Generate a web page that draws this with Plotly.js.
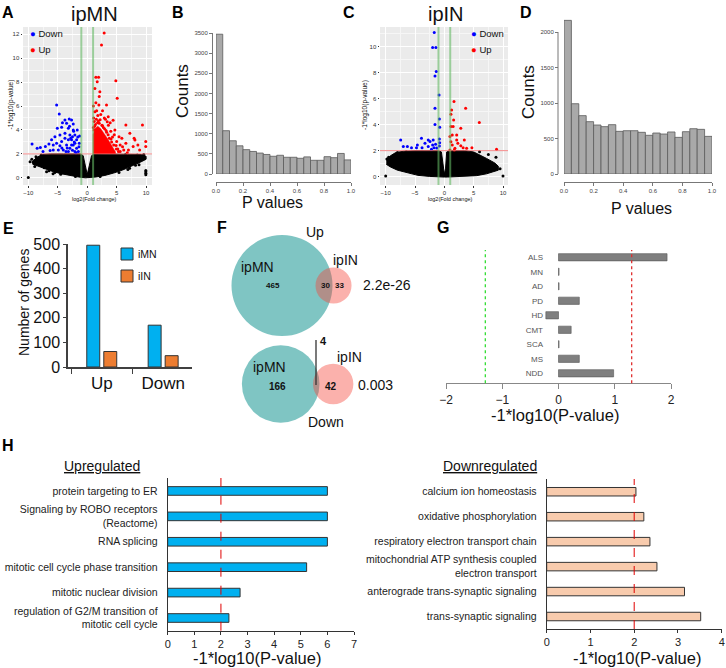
<!DOCTYPE html>
<html>
<head>
<meta charset="utf-8">
<script src="https://cdn.plot.ly/plotly-3.0.1.min.js"></script>
<style>
  body { margin: 0; background: #fff; }
  #fig { width: 726px; height: 668px; }
</style>
</head>
<body>
<div id="fig"></div>
<script>
// ---- data ----
const fcThresh = 1;
const pThresh = 2;

// A: ipMN volcano (dense black cloud drawn as its envelope)
const aCloudX = [-9.4,-8.6,-7.6,-6.2,-4,-2,-1.2,-0.68,-0.3,0,0.3,0.74,1.2,3,5,7.5,9.2,10,10,9,7.5,6,4.5,3,1.5,0.3,0,-0.3,-1.5,-3,-4.5,-6,-7.5,-8.5,-9.3];
const aCloudY = [1.3,1.7,1.95,2,2,2,2,1.85,0.9,0.28,0.9,1.85,2,2,2,2,1.95,1.8,1.55,1.3,0.95,0.65,0.4,0.2,0.07,0,-0.02,0,0.07,0.2,0.35,0.55,0.8,1.0,1.15];
const aNsX = [-10,-9.4,-9.0,-8.7,-8.3,-8.0,-7.8,-7.3,-6.5,-5.5,-4.5,9.95,9.95,9.95,9.95,6.5,8.5,9.6,7.2,8.2,-2,2.2,-9.7,-8.9,-6.9,-5.8,5.4,6.9,8.8];
const aNsY = [0.02,1.55,1.2,1.75,1.45,1.1,1.9,0.85,0.6,0.45,0.3,0.25,0.38,0.5,0.62,1.95,1.9,1.95,0.8,1.05,0.1,0.12,1.35,0.95,0.5,0.35,0.45,0.7,1.1];
const aUpCoreX = [1.0,1.0,1.3,1.8,2.3,2.9,3.4,3.9,4.4,4.8,4.8];
const aUpCoreY = [2.0,3.6,4.1,4.3,4.1,3.7,3.3,2.9,2.5,2.15,2.0];
const aUpX = [2.88,2.43,4.86,5.09,1.47,1.93,1.7,2.15,1.3,1.47,1.98,1.3,3.28,3.57,3.4,7.24,9.38,6.56,7.97,5.6,5.88,9.94,9.94,8.6,8.1,4.7,5.4,6.2,7.0,5.0,5.6,7.8,8.9,6.56,4.4,2.04,1.1,1.6,2.3,2.6,1.2,2.9,3.6,4.0,4.3,4.9,5.2,1.05,1.8,3.1,4.6,6.0,6.8,3.9,
  1.15,1.4,1.75,2.05,2.5,2.75,3.2,3.55,3.75,4.15,4.5,4.95,5.3,1.25,1.9,2.6,3.3,4.05,1.05,1.55,2.2,2.95];
const aUpY = [12.1,11.1,8.1,6.64,8.4,8.4,8.03,7.2,7.47,6.28,6.08,5.53,6.08,5.11,4.69,3.72,4.42,4.42,3.3,2.75,3.3,3.03,2.61,2.75,3.16,4.0,3.44,2.33,2.33,3.03,2.19,2.61,2.33,2.89,4.8,6.8,5.0,5.6,5.3,5.6,4.7,5.0,4.4,3.9,3.4,2.7,2.4,6.0,5.2,4.9,3.6,2.6,2.1,4.6,
  4.0,4.45,4.6,4.55,4.4,4.2,3.95,3.6,3.3,3.0,2.75,2.4,2.2,4.3,4.75,4.35,3.8,3.25,4.2,4.9,4.85,4.1];
const aDownX = [-5.19,-4.74,-3.05,-2.66,-4.2,-3.5,-2.37,-5.07,-4.34,-3.2,-2.37,-3.78,-2.94,-2.09,-5.48,-4.63,-6.05,-2.66,-1.8,-1.35,-9.36,-7.95,-7.1,-6.5,-5.76,-5.2,-4.34,-3.5,-2.94,-2.37,-1.8,-1.5,-4.06,-4.9,-6.3,-3.2,-2.09,-2.66,-3.78,-2.09,-3.2,-1.69,-3.78,-7.5,-8.5,-2.5,-4.63,-5.76,-1.4,-1.6,-2.2,-2.5,-2.8,-3.4,-1.9,-2.3,-3.0,-1.3,-3.6,-4.3];
const aDownY = [6.08,5.33,4.92,4.83,4.61,4.56,4.5,4.14,4.22,4.14,4.0,3.72,3.58,3.58,3.44,3.58,3.17,3.17,3.17,2.89,2.83,2.53,2.61,2.83,2.75,2.89,3.03,2.75,2.47,2.75,2.47,2.19,2.33,2.33,2.28,2.19,2.19,2.75,3.3,2.89,3.17,4.0,4.83,2.19,2.47,3.44,2.67,2.33,2.6,3.4,3.0,2.3,3.3,2.5,2.1,3.9,4.3,3.5,2.2,2.5];

// C: ipIN volcano
const cCloudX = [-9.9,-9.2,-8.3,-7,-5,-2,-1.0,-0.5,-0.2,0.0,0.2,0.4,1.0,3.5,5.0,6.2,7.2,8.6,9.2,9.2,8.4,7.2,5.5,3,0.5,0,-0.5,-2.5,-4.5,-6.5,-8,-9.2,-9.9];
const cCloudY = [1.3,1.6,1.85,1.95,2.0,2.0,2.0,1.9,0.6,0.2,0.6,1.9,2.0,2.0,1.9,1.65,1.4,1.05,0.8,0.5,0.38,0.22,0.08,0.0,-0.03,-0.03,-0.03,0.02,0.1,0.3,0.5,0.75,0.95];
const cNsX = [-10,10,-9.8,-8,-6.5,6,7.5,8.8,-9.5,9.5];
const cNsY = [0.05,0.05,1.35,1.85,1.92,1.92,1.7,1.5,1.5,0.6];
const cUpX = [1.64,3.63,5.96,1.24,1.12,1.12,1.5,2.8,1.58,0.95,1.35,2.1,3.4,2.3,2.8,3.2,3.8,4.7,1.8,1.35,1.12,1.7,8.9,0.95,2.1];
const cUpY = [5.77,5.26,4.16,5.13,4.79,3.85,3.85,3.72,4.36,3.08,3.2,2.82,2.82,2.56,2.38,2.23,2.18,2.23,2.18,2.44,2.69,2.05,2.1,2.05,3.2];
const cDownX = [-1.72,-2.0,-1.45,-1.38,-1.6,-0.9,-1.6,-0.85,-1.6,-0.8,-0.85,-0.8,-0.85,-7.44,-7.0,-6.3,-5.6,-4.75,-3.9,-3.3,-2.74,-2.45,-2.0,-1.77,-3.8,-4.6,-2.74,-1.9,-1.5,-1.3,-2.2];
const cDownY = [11.08,9.93,9.93,8.08,7.74,6.28,5.26,4.44,4.0,3.8,2.9,2.6,2.35,2.82,2.31,2.31,2.23,2.23,2.95,2.56,2.31,2.7,2.44,2.23,2.23,2.44,2.82,2.82,2.5,2.2,2.1];

// B and D: p-value histograms
const pBins = [0.025,0.075,0.125,0.175,0.225,0.275,0.325,0.375,0.425,0.475,0.525,0.575,0.625,0.675,0.725,0.775,0.825,0.875,0.925,0.975];
const bCounts = [3470,1075,825,700,605,560,520,485,440,465,415,415,390,425,340,340,430,405,510,350];
const dCounts = [2164,990,822,737,690,667,695,601,610,610,587,545,577,563,592,516,596,638,629,530];

// E: number of DE genes
const eGroups = ["Up", "Down"];
const eIMN = [495, 170];
const eIIN = [63, 46];

// F: Venn counts
const vennUp = { mnOnly: 465, both: 30, inOnly: 33, p: "2.2e-26" };
const vennDown = { mnOnly: 166, both: 4, inOnly: 42, p: "0.003" };

// G: disease gene enrichment
const gCats = ["ALS", "MN", "AD", "PD", "HD", "CMT", "SCA", "MS", "NDD"];
const gVals = [1.93, 0.01, 0.01, 0.37, -0.225, 0.225, 0.01, 0.37, 0.98];
const gCut = 1.301;

// H: GO terms
const hUpCats = ["protein targeting to ER", "Signaling by ROBO receptors<br>(Reactome)", "RNA splicing",
  "mitotic cell cycle phase transition", "mitotic nuclear division", "regulation of G2/M transition of<br>mitotic cell cycle"];
const hUpVals = [6.0, 6.0, 6.0, 5.22, 2.72, 2.3];
const hDownCats = ["calcium ion homeostasis", "oxidative phosphorylation", "respiratory electron transport chain",
  "mitochondrial ATP synthesis coupled<br>electron transport", "anterograde trans-synaptic signaling", "trans-synaptic signaling"];
const hDownVals = [2.04, 2.22, 2.36, 2.52, 3.15, 3.52];
const hCut = 2;

// ---- helpers (pixel -> paper) ----
const W = 726, H = 668;
const dx = (a, b) => [a / W, b / W];
const dy = (t, b) => [(H - b) / H, (H - t) / H];
const FONT = "Arial, 'Liberation Sans', sans-serif";

function ann(x, y, text, size, extra) {
  return Object.assign({
    xref: "paper", yref: "paper", x: x / W, y: (H - y) / H, text: text,
    showarrow: false, font: { size: size, color: "#111", family: FONT },
    xanchor: "center", yanchor: "middle"
  }, extra || {});
}

function pts(x, y, color, xa, ya) {
  return { type: "scatter", mode: "markers", x: x, y: y, xaxis: xa, yaxis: ya,
    marker: { color: color, size: 3, line: { width: 0 } }, hoverinfo: "skip" };
}
function area(x, y, color, xa, ya, lw) {
  return { type: "scatter", mode: "lines", x: x, y: y, xaxis: xa, yaxis: ya, fill: "toself",
    fillcolor: color, line: { color: color, width: lw }, hoverinfo: "skip" };
}

const data = [
  // A
  area(aCloudX, aCloudY, "#000", "x", "y", 1),
  pts(aNsX, aNsY, "#000", "x", "y"),
  pts(aDownX, aDownY, "#0000FF", "x", "y"),
  area(aUpCoreX, aUpCoreY, "#FF0000", "x", "y", 0.5),
  pts(aUpX, aUpY, "#FF0000", "x", "y"),
  // C
  area(cCloudX, cCloudY, "#000", "x3", "y3", 1),
  pts(cNsX, cNsY, "#000", "x3", "y3"),
  pts(cDownX, cDownY, "#0000FF", "x3", "y3"),
  pts(cUpX, cUpY, "#FF0000", "x3", "y3"),
  // B, D histograms
  { type: "bar", x: pBins, y: bCounts, width: 0.05, xaxis: "x2", yaxis: "y2",
    marker: { color: "#A9A9A9", line: { color: "#5A5A5A", width: 0.8 } } },
  { type: "bar", x: pBins, y: dCounts, width: 0.05, xaxis: "x4", yaxis: "y4",
    marker: { color: "#A9A9A9", line: { color: "#5A5A5A", width: 0.8 } } },
  // E
  { type: "bar", x: eGroups, y: eIMN, offset: -0.244, width: 0.211, xaxis: "x5", yaxis: "y5",
    marker: { color: "#00B0F0", line: { color: "#333", width: 1 } } },
  { type: "bar", x: eGroups, y: eIIN, offset: 0.033, width: 0.211, xaxis: "x5", yaxis: "y5",
    marker: { color: "#ED7D31", line: { color: "#333", width: 1 } } },
  // G
  { type: "bar", orientation: "h", y: gCats, x: gVals, width: 0.5, xaxis: "x7", yaxis: "y7",
    marker: { color: "#7F7F7F", line: { color: "#555", width: 0.6 } } },
  // H
  { type: "bar", orientation: "h", y: hUpCats, x: hUpVals, width: 0.34, xaxis: "x8", yaxis: "y8",
    marker: { color: "#00B0F0", line: { color: "#333", width: 1 } } },
  { type: "bar", orientation: "h", y: hDownCats, x: hDownVals, width: 0.34, xaxis: "x9", yaxis: "y9",
    marker: { color: "#F8CBAD", line: { color: "#333", width: 1 } } }
];

function volX(dom, range, yname) {
  return { domain: dom, range: range, anchor: yname, tickvals: [-10, -5, 0, 5, 10],
    tickfont: { size: 6, color: "#333" }, ticks: "outside", ticklen: 1.5, tickcolor: "#333",
    showgrid: true, gridcolor: "#fff", gridwidth: 1, zeroline: false, showline: false,
    minor: { tickvals: [-7.5, -2.5, 2.5, 7.5], showgrid: true, gridcolor: "#F6F6F6", gridwidth: 0.6 } };
}
function volY(dom, range, xname, vals) {
  return { domain: dom, range: range, anchor: xname, tickvals: vals,
    tickfont: { size: 6, color: "#333" }, ticks: "outside", ticklen: 1.5, tickcolor: "#333",
    showgrid: true, gridcolor: "#fff", gridwidth: 1, zeroline: false, showline: false,
    minor: { tickvals: vals.map(v => v + 1), showgrid: true, gridcolor: "#F6F6F6", gridwidth: 0.6 } };
}
const histTick = { size: 6, color: "#444" };

const layout = {
  width: W, height: H, margin: { l: 0, r: 0, t: 0, b: 0 },
  paper_bgcolor: "#fff", plot_bgcolor: "rgba(0,0,0,0)",
  font: { family: FONT, color: "#111" },
  showlegend: false, barmode: "overlay",

  xaxis: volX(dx(23, 152), [-10.9, 11.0], "y"),
  yaxis: volY(dy(27, 185), [-0.6, 12.6], "x", [0, 2, 4, 6, 8, 10, 12]),
  xaxis3: volX(dx(380, 508), [-10.97, 10.85], "y3"),
  yaxis3: volY(dy(27, 185), [-0.64, 11.5], "x3", [0, 2, 4, 6, 8, 10]),

  xaxis2: { domain: dx(216, 351), range: [0, 1], anchor: "free", position: (H - 182) / H,
    tickvals: [0, 0.2, 0.4, 0.6, 0.8, 1], tickformat: ".1f", showline: true, linecolor: "#777",
    ticks: "outside", ticklen: 3, tickcolor: "#777", tickfont: histTick, showgrid: false, zeroline: false },
  yaxis2: { domain: dy(33, 174), range: [0, 3500], anchor: "free", position: 212 / W,
    tickvals: [0, 500, 1000, 1500, 2000, 2500, 3000, 3500], showline: true, linecolor: "#777",
    ticks: "outside", ticklen: 3, tickcolor: "#777", tickfont: histTick, showgrid: false, zeroline: false },
  xaxis4: { domain: dx(564, 712), range: [0, 1], anchor: "free", position: (H - 182) / H,
    tickvals: [0, 0.2, 0.4, 0.6, 0.8, 1], tickformat: ".1f", showline: true, linecolor: "#777",
    ticks: "outside", ticklen: 3, tickcolor: "#777", tickfont: histTick, showgrid: false, zeroline: false },
  yaxis4: { domain: dy(17.8, 174), range: [0, 2200], anchor: "free", position: 558 / W,
    tickvals: [0, 500, 1000, 1500, 2000], showline: false,
    ticks: "outside", ticklen: 3, tickcolor: "#777", tickfont: histTick, showgrid: false, zeroline: false },

  xaxis5: { domain: dx(68, 192), range: [-0.55, 1.47], anchor: "y5", showline: true, linecolor: "#404040",
    linewidth: 1.5, ticks: "outside", tickson: "boundaries", ticklen: 5, tickcolor: "#404040",
    tickfont: { size: 17, color: "#111" }, showgrid: false, zeroline: false },
  yaxis5: { domain: dy(244, 367), range: [0, 500], anchor: "x5", showline: true, linecolor: "#404040",
    linewidth: 1.5, ticks: "outside", ticklen: 3, tickcolor: "#404040", tickvals: [0, 100, 200, 300, 400, 500],
    tickfont: { size: 16, color: "#111" }, showgrid: false, zeroline: false },

  xaxis7: { domain: dx(446, 671), range: [-2, 2], anchor: "y7", showline: true, linecolor: "#888",
    ticks: "outside", ticklen: 5, tickcolor: "#888", tickvals: [-2, -1, 0, 1, 2],
    tickfont: { size: 12, color: "#222" }, showgrid: false, zeroline: false },
  yaxis7: { domain: dy(250, 383.3), range: [8.69, -0.5], anchor: "free", position: 543 / W,
    type: "category", showline: false, ticks: "", tickfont: { size: 8, color: "#555" },
    showgrid: false, zeroline: false },

  xaxis8: { domain: dx(167.7, 354), range: [0, 7], anchor: "y8", showline: true, linecolor: "#333",
    ticks: "outside", ticklen: 3, tickcolor: "#333", tickvals: [0, 1, 2, 3, 4, 5, 6, 7],
    tickfont: { size: 11, color: "#222" }, showgrid: false, zeroline: false },
  yaxis8: { domain: dy(478, 630.7), range: [5.5, -0.51], anchor: "x8", type: "category",
    showline: true, linecolor: "#333", ticks: "", ticklabelstandoff: 7,
    tickfont: { size: 10.5, color: "#222" }, showgrid: false, zeroline: false },
  xaxis9: { domain: dx(546.7, 721.7), range: [0, 4], anchor: "y9", showline: true, linecolor: "#333",
    ticks: "outside", ticklen: 3, tickcolor: "#333", tickvals: [0, 1, 2, 3, 4],
    tickfont: { size: 11, color: "#222" }, showgrid: false, zeroline: false },
  yaxis9: { domain: dy(479, 629), range: [5.5, -0.51], anchor: "x9", type: "category",
    showline: true, linecolor: "#333", ticks: "", ticklabelstandoff: 7,
    tickfont: { size: 10.5, color: "#222" }, showgrid: false, zeroline: false },

  shapes: [],
  annotations: []
};

const S = layout.shapes, A = layout.annotations;

// volcano backgrounds and threshold lines
[["x", "y"], ["x3", "y3"]].forEach(([xa, ya]) => {
  S.push({ type: "rect", xref: xa + " domain", yref: ya + " domain", x0: 0, x1: 1, y0: 0, y1: 1,
    fillcolor: "#EBEBEB", line: { width: 0 }, layer: "below" });
  S.push({ type: "line", xref: xa + " domain", yref: ya, x0: 0, x1: 1, y0: pThresh, y1: pThresh,
    line: { color: "rgba(240,110,110,0.8)", width: 1 } });
  [-fcThresh, fcThresh].forEach(v => S.push({ type: "line", xref: xa, yref: ya + " domain",
    x0: v, x1: v, y0: 0, y1: 1, line: { color: "rgba(100,185,100,0.6)", width: 2 } }));
});

// D y-axis line (R draws it only between the end ticks)
S.push({ type: "line", xref: "paper", yref: "y4", x0: 558 / W, x1: 558 / W, y0: 0, y1: 2000,
  line: { color: "#777", width: 1 } });

// G and H cut-off lines
S.push({ type: "line", xref: "x7", yref: "y7 domain", x0: -gCut, x1: -gCut, y0: 0, y1: 1,
  line: { color: "#33DD33", width: 1.3, dash: "dot" } });
S.push({ type: "line", xref: "x7", yref: "y7 domain", x0: gCut, x1: gCut, y0: 0, y1: 1,
  line: { color: "#E03030", width: 1.3, dash: "dot" } });
S.push({ type: "line", xref: "x8", yref: "y8 domain", x0: hCut, x1: hCut, y0: 0, y1: 1,
  line: { color: "#E00000", width: 1, dash: "dash" } });
S.push({ type: "line", xref: "x9", yref: "y9 domain", x0: hCut, x1: hCut, y0: 0, y1: 1,
  line: { color: "#E00000", width: 1, dash: "dash" } });

// E legend boxes
S.push({ type: "rect", xref: "paper", yref: "paper", x0: 121 / W, x1: 133 / W, y0: (H - 260) / H, y1: (H - 248) / H,
  fillcolor: "#00B0F0", line: { color: "#333", width: 1 } });
S.push({ type: "rect", xref: "paper", yref: "paper", x0: 121 / W, x1: 133 / W, y0: (H - 282) / H, y1: (H - 270) / H,
  fillcolor: "#ED7D31", line: { color: "#333", width: 1 } });

// F: Venn circles, area proportional to gene counts
function venn(v, k, cx, cy, overlap) {
  const rMN = k * Math.sqrt(v.mnOnly + v.both);
  const rIN = k * Math.sqrt(v.inOnly + v.both);
  const cx2 = cx + rMN + rIN - overlap;
  S.push({ type: "circle", xref: "paper", yref: "paper", x0: (cx - rMN) / W, x1: (cx + rMN) / W,
    y0: (H - cy - rMN) / H, y1: (H - cy + rMN) / H, fillcolor: "rgba(0,140,135,0.5)", line: { width: 0 } });
  S.push({ type: "circle", xref: "paper", yref: "paper", x0: (cx2 - rIN) / W, x1: (cx2 + rIN) / W,
    y0: (H - cy - rIN) / H, y1: (H - cy + rIN) / H, fillcolor: "rgba(245,70,57,0.42)", line: { width: 0 } });
}
venn(vennUp, 2.27, 282, 285.5, 17);
venn(vennDown, 2.976, 280.7, 384, 6.5);
S.push({ type: "line", xref: "paper", yref: "paper", x0: 316 / W, x1: 316 / W, y0: (H - 385) / H, y1: (H - 340) / H,
  line: { color: "#333", width: 1.3 } });

// panel letters
[["A", 8, 12], ["B", 178, 12], ["C", 349, 12], ["D", 526, 12], ["E", 8, 228],
 ["F", 222, 227], ["G", 443, 227], ["H", 8, 445]].forEach(([t, x, y]) =>
  A.push(ann(x, y, "<b>" + t + "</b>", 16, { font: { size: 16, color: "#000", family: FONT } })));

// A / C texts
A.push(ann(94, 14, "ipMN", 20));
A.push(ann(446, 14, "ipIN", 20));
A.push(ann(28, 33, '<span style="color:#0000FF">●</span> Down', 9.5, { xanchor: "left" }));
A.push(ann(28, 49, '<span style="color:#FF0000">●</span> Up', 9.5, { xanchor: "left" }));
A.push(ann(469, 33, '<span style="color:#0000FF">●</span> Down', 9.5, { xanchor: "left" }));
A.push(ann(469, 49, '<span style="color:#FF0000">●</span> Up', 9.5, { xanchor: "left" }));
A.push(ann(95, 199, "log2(Fold change)", 5.5));
A.push(ann(450, 199, "log2(Fold change)", 5.5));
A.push(ann(10.5, 105, "-1*log10(p-value)", 6.5, { textangle: -90 }));
A.push(ann(365, 105, "-1*log10(p-value)", 6.5, { textangle: -90 }));

// B / D texts
A.push(ann(182, 91, "Counts", 17, { textangle: -90 }));
A.push(ann(529, 92, "Counts", 17, { textangle: -90 }));
A.push(ann(272, 202, "P values", 16));
A.push(ann(641, 208, "P values", 16));

// E texts
A.push(ann(24, 303, "Number of genes", 14, { textangle: -90 }));
A.push(ann(136, 254, "iMN", 10.5, { xanchor: "left" }));
A.push(ann(136, 276, "iIN", 10.5, { xanchor: "left" }));

// F texts
A.push(ann(315, 232, "Up", 14));
A.push(ann(345, 260, "ipIN", 14));
A.push(ann(257, 267, "ipMN", 14));
A.push(ann(273, 285, "<b>" + vennUp.mnOnly + "</b>", 8));
A.push(ann(325.5, 285, "<b>" + vennUp.both + "</b>", 8));
A.push(ann(339.5, 285, "<b>" + vennUp.inOnly + "</b>", 8));
A.push(ann(361, 285, vennUp.p, 14, { xanchor: "left" }));
A.push(ann(323, 341, "<b>" + vennDown.both + "</b>", 11));
A.push(ann(349, 357, "ipIN", 14));
A.push(ann(269, 367, "ipMN", 14));
A.push(ann(277, 386, "<b>" + vennDown.mnOnly + "</b>", 10));
A.push(ann(331, 386, "<b>" + vennDown.inOnly + "</b>", 10));
A.push(ann(356, 385, vennDown.p, 14, { xanchor: "left" }));
A.push(ann(326, 422, "Down", 14));

// G / H texts
A.push(ann(555, 415, "-1*log10(P-value)", 16.5));
A.push(ann(102, 466, "<u>Upregulated</u>", 14));
A.push(ann(490, 466, "<u>Downregulated</u>", 14));
A.push(ann(257, 658, "-1*log10(P-value)", 16.5));
A.push(ann(637, 658, "-1*log10(P-value)", 16.5));

Plotly.newPlot("fig", data, layout, { displayModeBar: false, responsive: false });
</script>
</body>
</html>
